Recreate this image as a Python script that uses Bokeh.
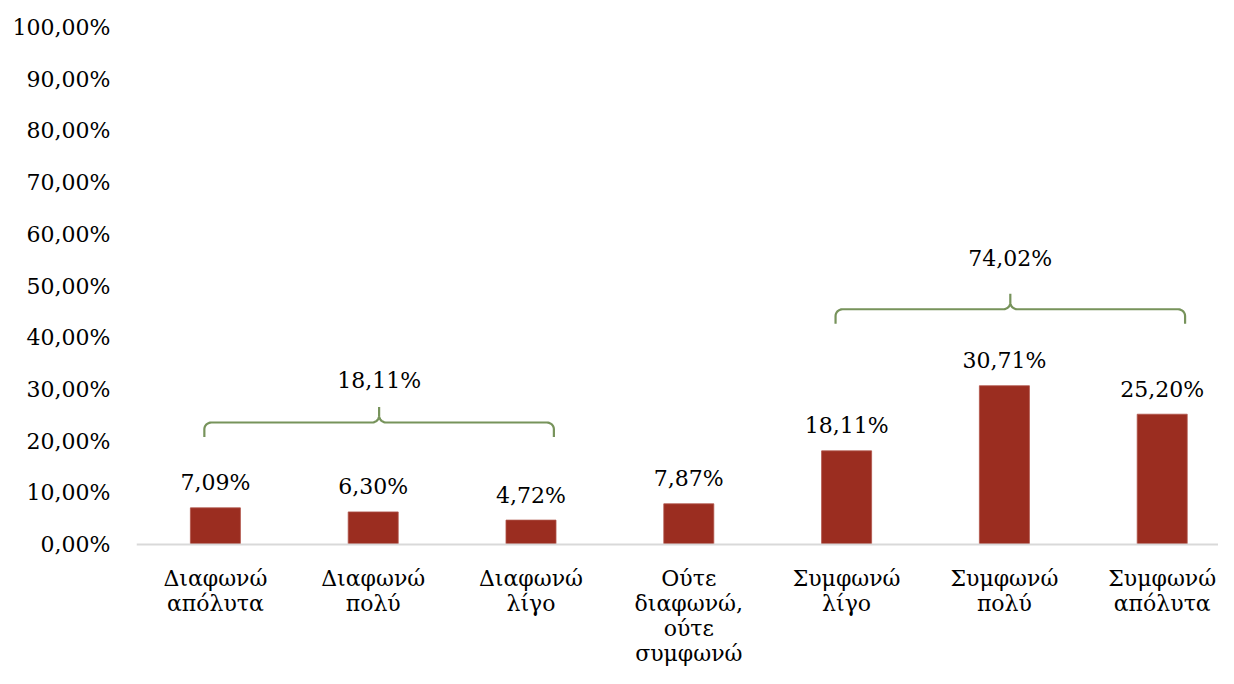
import numpy as np
from bokeh.plotting import figure
from bokeh.models import Range1d, FixedTicker, ColumnDataSource, Span
from bokeh.core.properties import value
from bokeh.embed import file_html
from bokeh.resources import INLINE

categories = ["Διαφωνώ\nαπόλυτα", "Διαφωνώ\nπολύ", "Διαφωνώ\nλίγο",
              "Ούτε\nδιαφωνώ,\nούτε\nσυμφωνώ", "Συμφωνώ\nλίγο",
              "Συμφωνώ\nπολύ", "Συμφωνώ\nαπόλυτα"]
values = [7.09, 6.30, 4.72, 7.87, 18.11, 30.71, 25.20]
y_ticks = [0, 10, 20, 30, 40, 50, 60, 70, 80, 90, 100]
y_tick_labels = ["0,00%", "10,00%", "20,00%", "30,00%", "40,00%", "50,00%",
                 "60,00%", "70,00%", "80,00%", "90,00%", "100,00%"]
group_first = [0, 4]
group_last = [2, 6]
group_totals = [18.11, 74.02]
bracket_levels = [23.6, 45.5]
bracket_label_levels = [31.7, 55.3]

FONT = "DejaVu Serif"
BAR = "#9B2D20"
GREEN = "#77935B"

def pct(v):
    return f"{v:.2f}".replace(".", ",") + "%"

W, H = 1218, 668
LEFT = 136
AXIS_Y = 544
PX_PER = 5.17
CAT_PX = 157.8

p = figure(width=W, height=H, output_backend="svg", toolbar_location=None,
           x_range=Range1d(-0.5, -0.5 + (W - LEFT) / CAT_PX),
           y_range=Range1d(-(H - AXIS_Y) / PX_PER, AXIS_Y / PX_PER),
           min_border_left=LEFT, min_border_right=0, min_border_top=0,
           min_border_bottom=0)
p.outline_line_color = None
p.xgrid.visible = False
p.ygrid.visible = False
p.xaxis.visible = False
p.background_fill_color = "white"
p.border_fill_color = "white"

# category axis line
p.add_layout(Span(location=0, dimension="width", line_color="#D9D9D9",
                  line_width=2))

xs = list(range(len(values)))
src = ColumnDataSource(dict(x=xs, top=values, lab=[pct(v) for v in values]))
p.vbar(x="x", top="top", width=0.317, source=src, fill_color=BAR,
       line_color="#B0544A", line_width=0.8)
p.text(x="x", y="top", text="lab", source=src, y_offset=-25,
       text_align="center", text_baseline="middle",
       text_font=value(FONT), text_font_size="22px", text_color="#000000")

# category labels (multi-line)
lx, lt, lo = [], [], []
for i, c in enumerate(categories):
    for k, line in enumerate(c.split("\n")):
        lx.append(i); lt.append(line); lo.append(34 + 25 * k)
lsrc = ColumnDataSource(dict(x=lx, y=[0] * len(lx), t=lt, off=lo))
p.text(x="x", y="y", text="t", y_offset="off", source=lsrc,
       text_align="center", text_baseline="middle",
       text_font=value(FONT), text_font_size="22px", text_color="#000000")

# brackets
rx, ry = 0.045, 1.3
def arc(cx, cy, a0, a1, n=10):
    t = np.linspace(a0, a1, n)
    return list(cx + rx * np.cos(t)), list(cy + ry * np.sin(t))

for g0, g1, lvl, tot, tl in zip(group_first, group_last, bracket_levels,
                                group_totals, bracket_label_levels):
    xl = g0 - 0.07
    xr = g1 + 0.145
    xm = (xl + xr) / 2
    yend = lvl - 2.8
    ytip = lvl + 3.0
    px, py = [xl], [yend]
    ax, ay = arc(xl + rx, lvl - ry, np.pi, np.pi / 2)
    px += ax; py += ay
    ax, ay = arc(xm - rx, lvl + ry, -np.pi / 2, 0)
    px += ax; py += ay
    px.append(xm); py.append(ytip)
    ax, ay = arc(xm + rx, lvl + ry, np.pi, 3 * np.pi / 2)
    px += ax; py += ay
    ax, ay = arc(xr - rx, lvl - ry, np.pi / 2, 0)
    px += ax; py += ay
    px.append(xr); py.append(yend)
    p.line(px, py, line_color=GREEN, line_width=2.2)
    p.text(x=[xm], y=[tl], text=[pct(tot)], text_align="center",
           text_baseline="middle", text_font=value(FONT),
           text_font_size="22px", text_color="#000000")

ya = p.yaxis[0]
ya.ticker = FixedTicker(ticks=y_ticks)
ya.major_label_overrides = {t: l for t, l in zip(y_ticks, y_tick_labels)}
ya.axis_line_color = None
ya.major_tick_line_color = None
ya.minor_tick_line_color = None
ya.major_tick_out = 0
ya.major_tick_in = 0
ya.major_label_standoff = 26
ya.major_label_text_font = FONT
ya.major_label_text_font_size = "22px"
ya.major_label_text_color = "#000000"

open("out.html", "w").write(file_html(p, INLINE))
